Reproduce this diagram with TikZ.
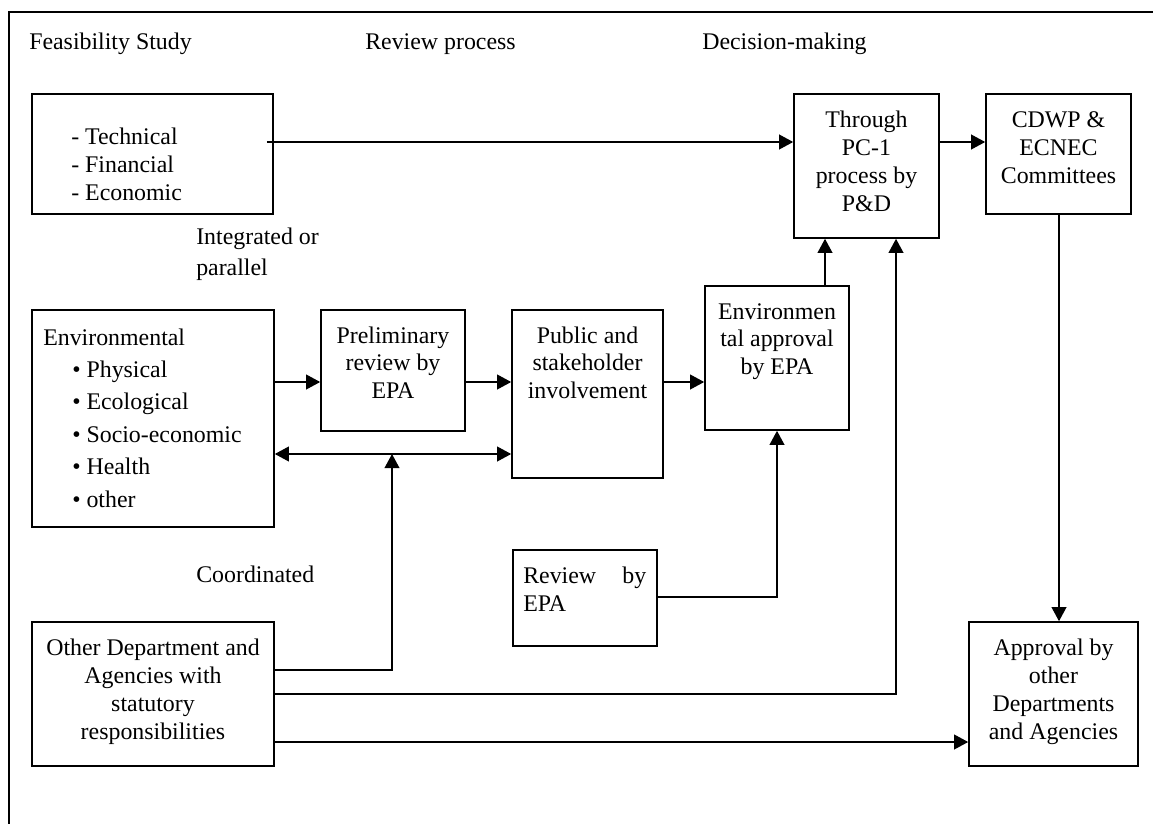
\documentclass[tikz,border=0pt]{standalone}
\usepackage{fontspec}
\setmainfont{Liberation Serif}
\usetikzlibrary{arrows.meta,calc}
\begin{document}
\begin{tikzpicture}[x=0.75pt,y=-0.75pt,
  box/.style={draw,line width=1.2pt,rectangle,inner sep=0pt},
  lbl/.style={inner sep=0pt,font=\fontsize{17.9pt}{21pt}\selectfont},
  arr/.style={line width=1.2pt,-{Triangle[length=10.5pt,width=11pt]}},
  arrtwo/.style={line width=1.2pt,{Triangle[length=10.5pt,width=11pt]}-{Triangle[length=10.5pt,width=11pt]}},
  frm/.style={line width=1.2pt}]
\useasboundingbox (0,0) rectangle (1153,824);
\draw[frm] (1153,12) -- (9,12) -- (9,824);

% headers
\node[lbl,anchor=base west] (h1) at (29,50) {Feasibility Study};
\node[lbl,anchor=base west] (h2) at (365,50) {Review process};
\node[lbl,anchor=base west] (h3) at (702,50) {Decision-making};

% boxes
\node[box,minimum width=180.75pt,minimum height=90pt] (tech) at (152.5,154) {};
\node[box,minimum width=108.75pt,minimum height=108pt] (pc1) at (866.5,166) {};
\node[box,minimum width=108.75pt,minimum height=90pt] (cdwp) at (1058.5,154) {};
\node[box,minimum width=181.5pt,minimum height=162.75pt] (env) at (153,418.5) {};
\node[box,minimum width=108pt,minimum height=90.75pt] (prelim) at (393,370.5) {};
\node[box,minimum width=113.25pt,minimum height=126pt] (public) at (587.5,394) {};
\node[box,minimum width=108pt,minimum height=108pt] (envapp) at (777,358) {};
\node[box,minimum width=108pt,minimum height=72pt] (review) at (585,598) {};
\node[box,minimum width=181.5pt,minimum height=108pt] (other) at (153,694) {};
\node[box,minimum width=126.75pt,minimum height=108pt] (approval) at (1053.5,694) {};

% box texts (base anchor = baseline of last line)
\node[lbl,anchor=base west,align=left] (ttech) at (71,200) {- Technical\\- Financial\\- Economic};
\node[lbl,anchor=base,align=center] (tpc1) at (866.5,211) {Through\\PC-1\\process by\\P\&D};
\node[lbl,anchor=base,align=center] (tcdwp) at (1058.5,183) {CDWP \&\\ECNEC\\Committees};
\node[lbl,anchor=base west,align=left,font=\fontsize{17.9pt}{24.3pt}\selectfont] (tenv) at (43,507)
  {Environmental\\\hspace*{21.75pt}• Physical\\\hspace*{21.75pt}• Ecological\\\hspace*{21.75pt}• Socio-economic\\\hspace*{21.75pt}• Health\\\hspace*{21.75pt}• other};
\node[lbl,anchor=base,align=center,font=\fontsize{17.9pt}{20.6pt}\selectfont] (tprelim) at (393,398) {Preliminary\\review by\\EPA};
\node[lbl,anchor=base,align=center,font=\fontsize{17.9pt}{20.6pt}\selectfont] (tpublic) at (587.5,398) {Public and\\stakeholder\\involvement};
\node[lbl,anchor=base,align=center,font=\fontsize{17.9pt}{20.6pt}\selectfont] (tenvapp) at (777,374) {Environmen\\tal approval\\by EPA};
\node[lbl,anchor=base west,align=left,text width=92.25pt] (treview) at (523,583) {Review\hfill by\\EPA};
\node[lbl,anchor=base,align=center] (tother) at (153,739) {Other Department and\\Agencies with\\statutory\\responsibilities};
\node[lbl,anchor=base,align=center] (tapproval) at (1053.5,739) {Approval by\\other\\Departments\\and Agencies};

% free labels
\node[lbl,anchor=base west,align=left,font=\fontsize{17.9pt}{23.25pt}\selectfont] (integ) at (196,275) {Integrated or\\parallel};
\node[lbl,anchor=base west] (coord) at (196,582) {Coordinated};

% helper coordinates
\coordinate (yA) at (0,142);
\coordinate (yB) at (0,382);
\coordinate (yC) at (0,454);
\coordinate (yD) at (0,670);
\coordinate (yE) at (0,694);
\coordinate (yF) at (0,742);
\coordinate (yG) at (0,597);
\coordinate (xC) at (392,0);
\coordinate (xP) at (896,0);
\coordinate (xE) at (825,0);
\coordinate (xK) at (1059,0);
\coordinate (tstart) at ($(tech.east |- yA)+(-7,0)$);

% connectors
\draw[arr] (tstart) -- (pc1.west |- yA);
\draw[arr] (pc1.east |- yA) -- (cdwp.west |- yA);
\draw[arr] (env.east |- yB) -- (prelim.west |- yB);
\draw[arr] (prelim.east |- yB) -- (public.west |- yB);
\draw[arr] (public.east |- yB) -- (envapp.west |- yB);
\draw[arrtwo] (env.east |- yC) -- (public.west |- yC);
\draw[arr] (other.east |- yD) -| (xC |- yC);
\draw[arr] (other.east |- yE) -| (xP |- pc1.south);
\draw[arr] (other.east |- yF) -- (approval.west |- yF);
\draw[arr] (xE |- envapp.north) -- (xE |- pc1.south);
\draw[arr] (review.east |- yG) -| (envapp.south);
\draw[arr] (xK |- cdwp.south) -- (xK |- approval.north);
\end{tikzpicture}
\end{document}
